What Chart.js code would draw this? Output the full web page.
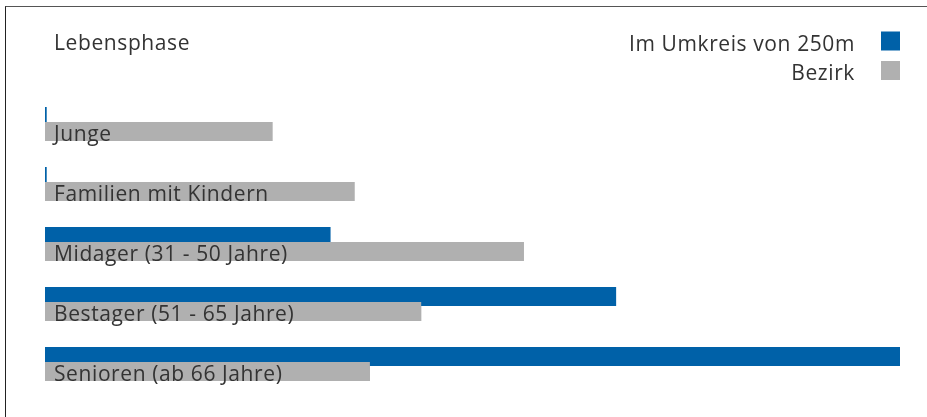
<!DOCTYPE html>
<html lang="de">
<head>
<meta charset="utf-8">
<script src="https://cdn.jsdelivr.net/npm/chart.js@4.4.1/dist/chart.umd.min.js"></script>
<style>
    html, body { margin: 0; padding: 0; background: #fff; }
    #wrap {
        position: relative;
        width: 927px; height: 417px;
        box-sizing: border-box;
    }
    #wrap::before {
        content: ''; position: absolute; left: 5px; top: 6px; right: 0; bottom: 0;
        border-left: 1.5px solid #222; border-top: 1.5px solid #555;
        pointer-events: none;
    }
    canvas { display: block; }
</style>
</head>
<body>
<div id="wrap"><canvas id="chart" width="927" height="417"></canvas></div>
<script>
// Lebensphase: Anteil (%) im Umkreis von 250m vs. Bezirk
const TITLE      = 'Lebensphase';
const CATEGORIES = ['Junge', 'Familien mit Kindern', 'Midager (31 - 50 Jahre)',
                    'Bestager (51 - 65 Jahre)', 'Senioren (ab 66 Jahre)'];
const UMKREIS    = [0.1, 0.1, 16.7, 33.4, 50.0];
const BEZIRK     = [13.3, 18.1, 28.0, 22.0, 19.0];
const SERIES     = ['Im Umkreis von 250m', 'Bezirk'];
const COLORS     = ['#0061a8', '#b0b0b0'];

const FONT = '"Open Sans", "Lato", sans-serif';

// Beschriftungen + Legende direkt aufs Canvas zeichnen
const overlayPlugin = {
    id: 'overlay',
    afterDatasetsDraw(chart) {
        const ctx = chart.ctx;
        // Bezirk-Balken sollen über den blauen liegen
        chart.getDatasetMeta(1).controller.draw();

        ctx.save();
        ctx.fillStyle = '#333';
        ctx.font = '21px ' + FONT;
        ctx.letterSpacing = '0.6px';   // Originalschrift läuft breiter
        ctx.textBaseline = 'alphabetic';
        ctx.textAlign = 'left';

        // Kategorie-Labels unten im grauen Balken
        chart.getDatasetMeta(1).data.forEach((bar, i) => {
            const bottom = bar.y + bar.height / 2;
            ctx.fillText(CATEGORIES[i], chart.chartArea.left + 9, bottom - 0.5);
        });

        // Titel
        ctx.fillText(TITLE, 54, 50);

        // Legende rechts oben, Kästchen rechts vom Text
        ctx.textAlign = 'right';
        SERIES.forEach((name, i) => {
            const base = 50.5 + i * 29.5;
            ctx.fillStyle = '#333';
            ctx.fillText(name, 855, base);
            ctx.fillStyle = COLORS[i];
            ctx.fillRect(881, base - 19, 19, 19);
        });
        ctx.restore();
    }
};

new Chart(document.getElementById('chart'), {
    type: 'bar',
    data: {
        labels: CATEGORIES,
        datasets: [
            { label: SERIES[0], data: UMKREIS, backgroundColor: COLORS[0] },
            { label: SERIES[1], data: BEZIRK,  backgroundColor: COLORS[1] }
        ]
    },
    options: {
        indexAxis: 'y',
        responsive: false,
        animation: false,
        categoryPercentage: 0.5,
        barPercentage: 19 / 15,
        layout: { padding: { left: 45, right: 27, top: 94, bottom: 23 } },
        plugins: {
            legend: { display: false },
            tooltip: { enabled: false }
        },
        scales: {
            x: { display: false, min: 0, max: 50 },
            y: { display: false }
        }
    },
    plugins: [overlayPlugin]
});
</script>
</body>
</html>
